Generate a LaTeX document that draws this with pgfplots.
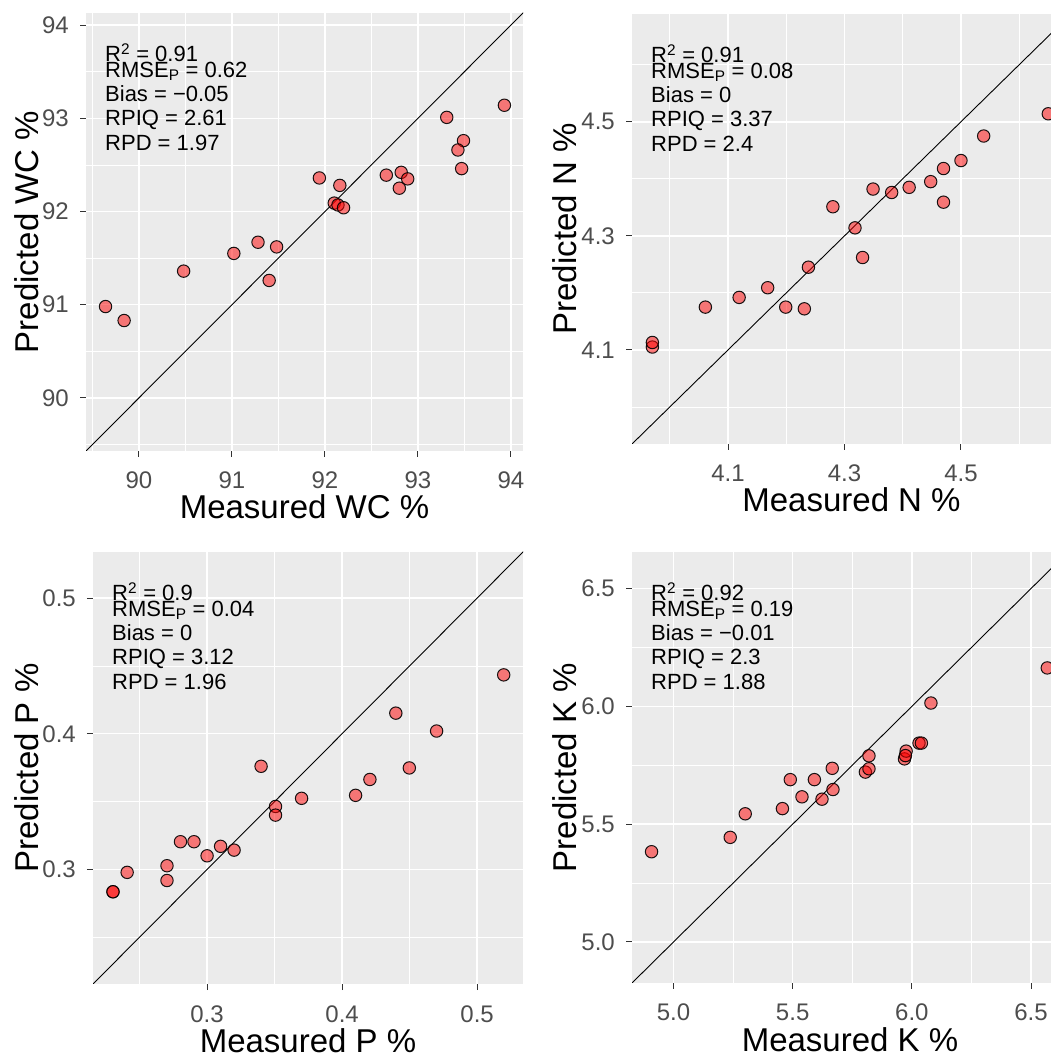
\documentclass[border=0pt]{standalone}
\usepackage{fontspec}
\setmainfont{Liberation Sans}
\usepackage{pgfplots}
\pgfplotsset{compat=1.18}
\definecolor{panelbg}{HTML}{EBEBEB}
\definecolor{ticktext}{HTML}{4D4D4D}
\definecolor{tickline}{HTML}{333333}
\newcommand\tickfont{\fontsize{24}{24}\selectfont}
\newcommand\labfont{\fontsize{33}{33}\selectfont}
\newcommand\annfont{\fontsize{22}{22}\selectfont}
\pgfplotsset{
  ggp/.style={
    scale only axis, anchor=south west,
    axis background/.style={fill=panelbg},
    axis line style={draw=none},
    xmajorgrids, ymajorgrids, xminorgrids, yminorgrids,
    major grid style={white, line width=1.5pt},
    minor grid style={white, line width=0.75pt},
    minor tick length=0pt,
    major tick length=6pt,
    tick align=outside,
    tick pos=left,
    tick style={tickline, line width=1pt},
    xticklabel style={font=\tickfont, text=ticktext, anchor=base, inner sep=0pt, yshift=-32pt},
    yticklabel style={font=\tickfont, text=ticktext, anchor=east, inner sep=0pt, xshift=-11pt},
    every axis x label/.style={at={([yshift=-68pt]axis description cs:0.5,0)}, anchor=base, font=\labfont, inner sep=0pt},
    clip marker paths=true,
  },
  ylab/.style={every axis y label/.style={at={([xshift=-#1]axis description cs:0,0.5)}, rotate=90, anchor=base, font=\labfont, inner sep=0pt}},
  pts/.style={only marks, mark=*, mark size=6.2pt,
    mark options={fill=red, fill opacity=0.5, draw=black, draw opacity=0.9, line width=1pt}},
  diag/.style={black, line width=0.9pt, forget plot},
}
\newcommand\ann[5]{%
  \node[anchor=base west, font=\annfont, inner sep=0pt] at ([xshift=19pt,yshift=-49pt]axis description cs:0,1) {R\textsuperscript{2} = #1};
  \node[anchor=base west, font=\annfont, inner sep=0pt] at ([xshift=19pt,yshift=-64.4pt]axis description cs:0,1) {RMSE\textsubscript{P} = #2};
  \node[anchor=base west, font=\annfont, inner sep=0pt] at ([xshift=19pt,yshift=-88.6pt]axis description cs:0,1) {Bias = #3};
  \node[anchor=base west, font=\annfont, inner sep=0pt] at ([xshift=19pt,yshift=-112.9pt]axis description cs:0,1) {RPIQ = #4};
  \node[anchor=base west, font=\annfont, inner sep=0pt] at ([xshift=19pt,yshift=-137.3pt]axis description cs:0,1) {RPD = #5};
}
\begin{document}
\begin{tikzpicture}
\useasboundingbox (0pt,0pt) rectangle (1050pt,1059pt);
% ---------------- WC ----------------
\begin{axis}[ggp, ylab=48pt, at={(86pt,608pt)}, width=437pt, height=438pt,
  xmin=89.43, xmax=94.13, ymin=89.43, ymax=94.13,
  xtick={90,91,92,93,94}, xticklabels={90,91,92,93,94},
  ytick={90,91,92,93,94}, yticklabels={90,91,92,93,94},
  minor xtick={89.5,90.5,91.5,92.5,93.5}, minor ytick={89.5,90.5,91.5,92.5,93.5},
  xlabel={Measured WC \%}, ylabel={Predicted WC \%}]
\addplot[diag] coordinates {(89 ,89) (95,95)};
\addplot[pts] coordinates {
(89.64,90.98) (89.84,90.83) (90.48,91.36) (91.02,91.55) (91.28,91.67)
(91.48,91.62) (91.40,91.26) (91.94,92.36) (92.16,92.28) (92.10,92.09)
(92.14,92.07) (92.20,92.04) (92.66,92.39) (92.82,92.42) (92.89,92.35)
(92.80,92.25) (93.31,93.01) (93.93,93.14) (93.49,92.76) (93.43,92.66)
(93.47,92.46)};
\ann{0.91}{0.62}{−0.05}{2.61}{1.97}
\end{axis}
% ---------------- N ----------------
\begin{axis}[ggp, ylab=56pt, at={(632pt,615pt)}, width=439pt, height=430pt,
  xmin=3.935, xmax=4.689, ymin=3.935, ymax=4.689,
  xtick={4.1,4.3,4.5}, xticklabels={4.1,4.3,4.5},
  ytick={4.1,4.3,4.5}, yticklabels={4.1,4.3,4.5},
  minor xtick={4.0,4.2,4.4,4.6}, minor ytick={4.0,4.2,4.4,4.6},
  xlabel={Measured N \%}, ylabel={Predicted N \%}]
\addplot[diag] coordinates {(3.9,3.9) (4.8,4.8)};
\addplot[pts] coordinates {
(3.970,4.105) (3.970,4.113) (4.061,4.175) (4.119,4.192) (4.168,4.209)
(4.199,4.175) (4.231,4.172) (4.238,4.245) (4.280,4.351) (4.318,4.314)
(4.331,4.262) (4.349,4.382) (4.381,4.376) (4.411,4.385) (4.448,4.395)
(4.470,4.418) (4.470,4.359) (4.500,4.432) (4.539,4.475) (4.650,4.514)};
\ann{0.91}{0.08}{0}{3.37}{2.4}
\end{axis}
% ---------------- P ----------------
\begin{axis}[ggp, ylab=55pt, at={(93pt,75pt)}, width=430pt, height=432pt,
  xmin=0.2155, xmax=0.534, ymin=0.2155, ymax=0.534,
  xtick={0.3,0.4,0.5}, xticklabels={0.3,0.4,0.5},
  ytick={0.3,0.4,0.5}, yticklabels={0.3,0.4,0.5},
  minor xtick={0.25,0.35,0.45}, minor ytick={0.25,0.35,0.45},
  xlabel={Measured P \%}, ylabel={Predicted P \%}]
\addplot[diag] coordinates {(0.2,0.2) (0.55,0.55)};
\addplot[pts] coordinates {
(0.2303,0.2835) (0.2303,0.2835) (0.2408,0.2978) (0.2703,0.3027) (0.2703,0.2918)
(0.2803,0.3204) (0.2903,0.3204) (0.3000,0.3100) (0.3100,0.3170) (0.3200,0.3142)
(0.3400,0.3760) (0.3507,0.3464) (0.3507,0.3400) (0.3700,0.3524) (0.4100,0.3546)
(0.4206,0.3663) (0.4398,0.4152) (0.4498,0.3748) (0.4700,0.4020) (0.5197,0.4434)};
\ann{0.9}{0.04}{0}{3.12}{1.96}
\end{axis}
% ---------------- K ----------------
\begin{axis}[ggp, ylab=56pt, at={(632pt,76pt)}, width=436pt, height=431pt,
  xmin=4.826, xmax=6.655, ymin=4.826, ymax=6.655,
  xtick={5.0,5.5,6.0,6.5}, xticklabels={5.0,5.5,6.0,6.5},
  ytick={5.0,5.5,6.0,6.5}, yticklabels={5.0,5.5,6.0,6.5},
  minor xtick={5.25,5.75,6.25}, minor ytick={5.25,5.75,6.25},
  xlabel={Measured K \%}, ylabel={Predicted K \%}]
\addplot[diag] coordinates {(4.7,4.7) (6.8,6.8)};
\addplot[pts] coordinates {
(4.908,5.383) (5.238,5.444) (5.301,5.544) (5.457,5.566) (5.490,5.689)
(5.539,5.616) (5.591,5.689) (5.623,5.606) (5.669,5.647) (5.666,5.737)
(5.805,5.721) (5.820,5.735) (5.820,5.790) (5.969,5.777) (5.976,5.810)
(5.973,5.791) (6.030,5.844) (6.040,5.844) (6.080,6.014) (6.568,6.163)};
\ann{0.92}{0.19}{−0.01}{2.3}{1.88}
\end{axis}
\end{tikzpicture}
\end{document}
